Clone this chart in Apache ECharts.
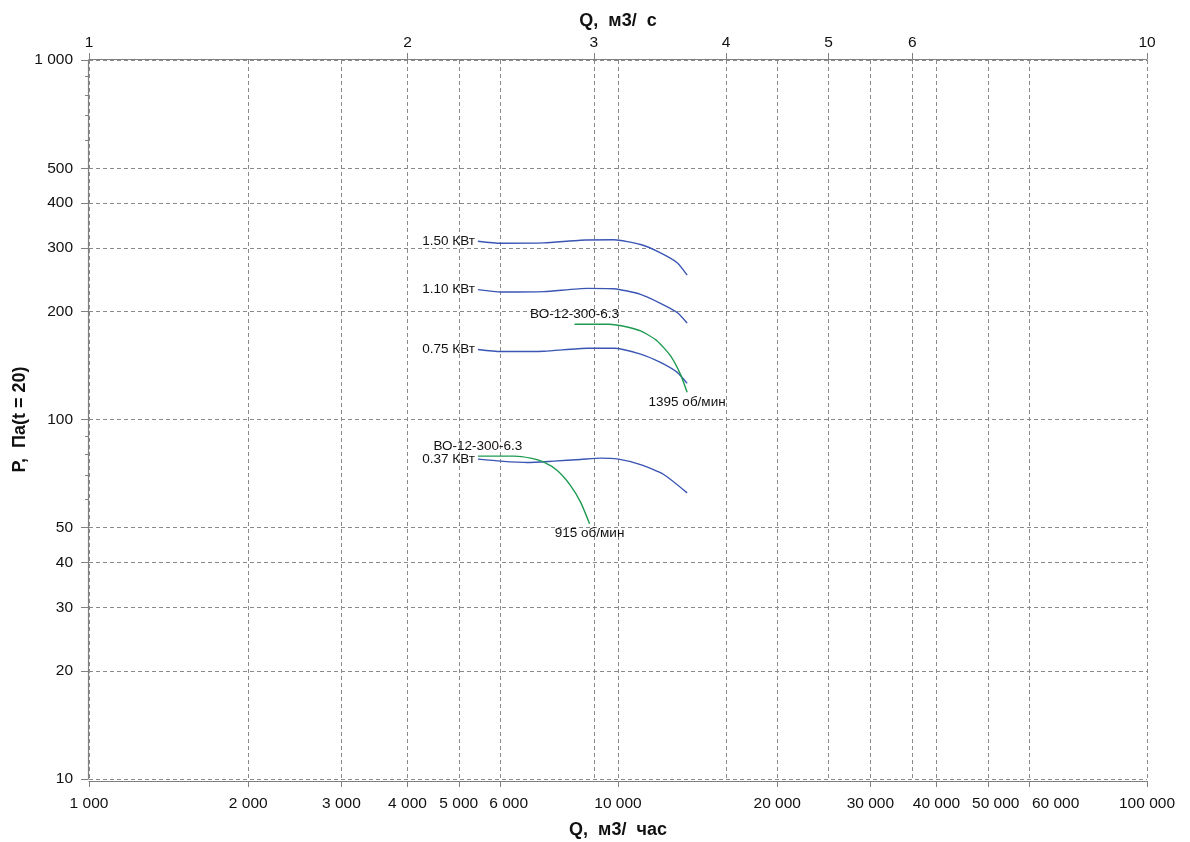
<!DOCTYPE html>
<html><head><meta charset="utf-8">
<script src="https://cdn.jsdelivr.net/npm/echarts@6/dist/echarts.min.js"></script>
<style>html,body{margin:0;padding:0;background:#fff}#c{width:1190px;height:842px}</style>
</head><body><div id="c"></div>
<script>
// Tick values
const bottomTicks = [1000, 2000, 3000, 4000, 5000, 6000, 10000, 20000, 30000, 40000, 50000, 60000, 100000];
const topTicks = [1, 2, 3, 4, 5, 6, 10];
const yTicks = [10, 20, 30, 40, 50, 100, 200, 300, 400, 500, 1000];
const yMinorTicks = [10, 20, 30, 40, 50, 60, 70, 80, 90, 100, 200, 300, 400, 500, 600, 700, 800, 900, 1000];

// Power curves (Q m3/h, P Pa)
const q150 = [5435, 6000, 7243, 8496, 9820, 11030, 12030, 12940, 13510];
const p150 = [313.3, 309.3, 309.9, 315.3, 316.1, 306.8, 290.9, 273.0, 252.2];
const q110 = [5435, 6000, 7243, 8750, 9820, 11030, 12030, 12940, 13510];
const p110 = [229.7, 226.2, 226.8, 231.6, 231.1, 222.9, 210.5, 198.4, 185.5];
const q075 = [5435, 6000, 7243, 8750, 9820, 11030, 12030, 12940, 13510];
const p075 = [156.6, 154.6, 154.9, 157.9, 157.9, 152.0, 144.1, 135.2, 126.0];
const q037 = [5435, 6000, 6738, 7564, 8496, 9267, 9966, 11030, 12200, 13510];
const p037 = [77.6, 76.6, 75.9, 76.6, 77.4, 78.1, 77.7, 74.9, 70.3, 62.5];

// Fan curves
const q1395 = [8276, 9608, 10410, 11030, 11860, 12570, 13120, 13510];
const p1395 = [184.0, 184.0, 180.9, 176.3, 165.4, 150.3, 133.7, 119.0];
const q915 = [5435, 6357, 6835, 7243, 7677, 8134, 8496, 8836];
const p915 = [79.1, 79.1, 78.1, 76.1, 72.1, 65.5, 58.9, 51.3];

const powerLabels = ['1.50 КВт', '1.10 КВт', '0.75 КВт', '0.37 КВт'];
const modelName = 'ВО-12-300-6.3';
const speedLabels = ['1395 об/мин', '915 об/мин'];

const FONT = 'Liberation Sans, Arial, sans-serif';
const sep = v => String(Math.round(v)).replace(/\B(?=(\d{3})+(?!\d))/g, ' ');
// a few crowded bottom labels are nudged right, as in the reference
const nudge = { 6000: 'n8', 50000: 'n8', 60000: 'n26' };
const fmtBottom = v => nudge[Math.round(v)] ? '{' + nudge[Math.round(v)] + '|' + sep(v) + '}' : sep(v);
const gridLine = { show: true, lineStyle: { color: '#8a8a8a', type: [4, 3], width: 1 } };
const axisLine = { show: true, lineStyle: { color: '#808080', width: 1.2 } };
const labelStyle = { fontSize: 15.5, color: '#111', fontFamily: FONT };
const nameStyle = { fontSize: 18, fontWeight: 'bold', color: '#111', fontFamily: FONT };

function powerSeries(q, p, label) {
  const data = q.map((x, i) => {
    const item = { value: [x, p[i]] };
    if (i === 0) item.label = { show: true, position: 'left', distance: 3, formatter: label };
    return item;
  });
  return {
    type: 'line', data, showSymbol: true, symbol: 'circle', symbolSize: 0, smooth: 0.2,
    lineStyle: { color: '#3a55b4', width: 1.4 },
    itemStyle: { color: '#3a55b4' },
    label: { show: false, color: '#111', fontSize: 13.5, fontFamily: FONT },
    silent: true
  };
}
function fanSeries(q, p, top, bottom) {
  const data = q.map((x, i) => {
    const item = { value: [x, p[i]] };
    if (i === 0) item.label = { show: true, position: 'top', distance: 3, formatter: top };
    if (i === q.length - 1) item.label = { show: true, position: 'bottom', distance: 3, formatter: bottom };
    return item;
  });
  return {
    type: 'line', data, showSymbol: true, symbol: 'circle', symbolSize: 0, smooth: 0.2,
    lineStyle: { color: '#1e9a50', width: 1.4 },
    itemStyle: { color: '#1e9a50' },
    label: { show: false, color: '#111', fontSize: 13.5, fontFamily: FONT },
    silent: true
  };
}

const chart = echarts.init(document.getElementById('c'), null, { renderer: 'canvas' });
chart.setOption({
  animation: false,
  backgroundColor: '#fff',
  grid: { left: 89, right: 43, top: 60, bottom: 63, containLabel: false, outerBoundsMode: 'none' },
  xAxis: [
    {
      type: 'log', logBase: 10, min: 1000, max: 100000, position: 'bottom', offset: 2,
      name: 'Q,  м3/  час', nameLocation: 'middle', nameGap: 40, nameTextStyle: nameStyle,
      axisLine,
      axisTick: { show: true, customValues: bottomTicks, length: 6, lineStyle: { color: '#808080' } },
      axisLabel: Object.assign({ customValues: bottomTicks, formatter: fmtBottom, margin: 15,
        rich: { n8: { padding: [0, 0, 0, 16] }, n26: { padding: [0, 0, 0, 52] } } }, labelStyle),
      splitLine: gridLine
    },
    {
      type: 'log', logBase: 10, min: 1, max: 10, position: 'top', offset: 1,
      name: 'Q,  м3/  с', nameLocation: 'middle', nameGap: 29, nameTextStyle: nameStyle,
      axisLine,
      axisTick: { show: true, customValues: topTicks, length: 6, lineStyle: { color: '#808080' } },
      axisLabel: Object.assign({ customValues: topTicks, formatter: sep, margin: 8 }, labelStyle),
      splitLine: gridLine
    }
  ],
  yAxis: [
    {
      type: 'log', logBase: 10, min: 10, max: 1000, position: 'left', offset: 1,
      name: 'P,  Па(t = 20)', nameLocation: 'middle', nameGap: 59, nameMoveOverlap: false,
      nameTextStyle: nameStyle,
      axisLine,
      axisTick: { show: true, customValues: yTicks, length: 7, lineStyle: { color: '#808080' } },
      axisLabel: Object.assign({ customValues: yTicks, formatter: sep, margin: 15 }, labelStyle),
      splitLine: gridLine
    },
    {
      type: 'log', logBase: 10, min: 10, max: 1000, position: 'left', offset: 1,
      axisLine: { show: false },
      axisTick: { show: true, customValues: yMinorTicks, length: 3, lineStyle: { color: '#808080' } },
      axisLabel: { show: false },
      splitLine: { show: false }
    }
  ],
  series: [
    powerSeries(q150, p150, powerLabels[0]),
    powerSeries(q110, p110, powerLabels[1]),
    powerSeries(q075, p075, powerLabels[2]),
    powerSeries(q037, p037, powerLabels[3]),
    fanSeries(q1395, p1395, modelName, speedLabels[0]),
    fanSeries(q915, p915, modelName, speedLabels[1])
  ]
});
</script></body></html>
